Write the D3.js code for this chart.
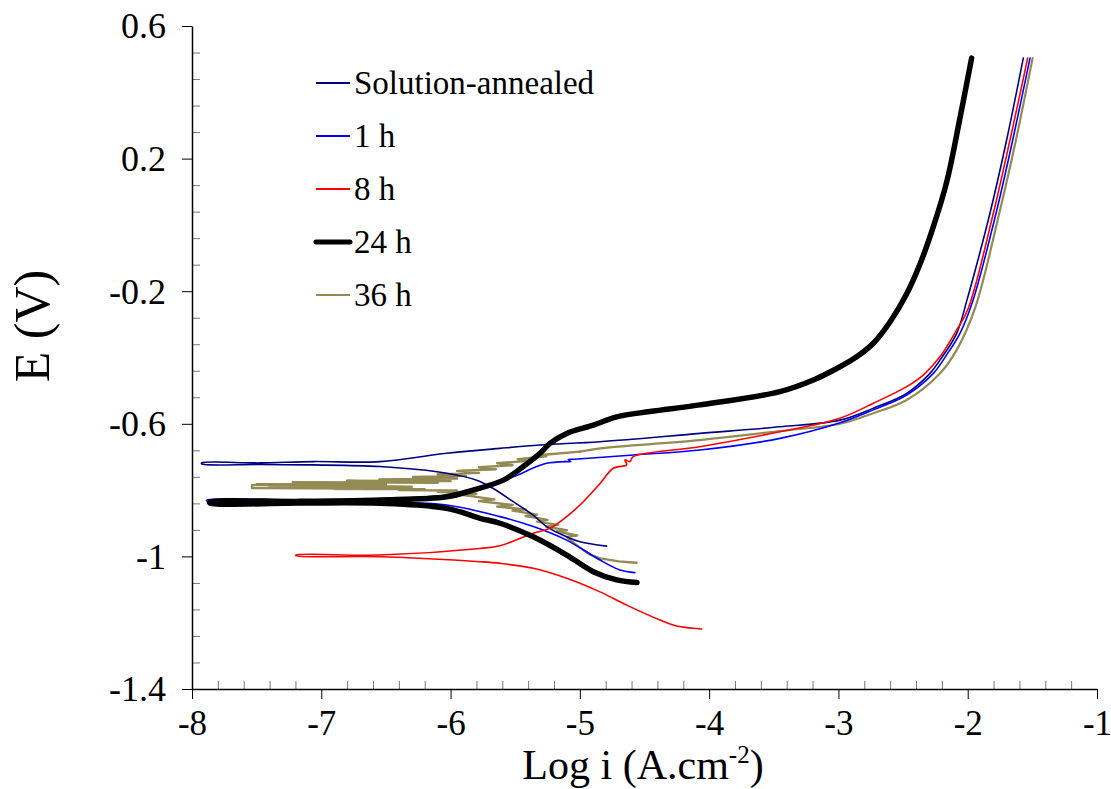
<!DOCTYPE html>
<html><head><meta charset="utf-8">
<script src="https://cdn.jsdelivr.net/npm/d3@7"></script>
<style>body{margin:0;background:#fff} text{font-family:"Liberation Serif","Times New Roman",serif;fill:#000}</style>
</head><body><svg id="c" width="1111" height="789"></svg>
<script>
const xTicks=[-8,-7,-6,-5,-4,-3,-2,-1];
const yTicks=[0.6,0.2,-0.2,-0.6,-1,-1.4];
const seriesNames=["Solution-annealed","1 h","8 h","24 h","36 h"];
const seriesColors=["#000080","#0000FF","#FF0000","#000000","#948A54"];

// [log i, E] in scan order: cathodic end -> Ecorr -> anodic end
const solutionAnnealed=[[-4.793,-0.969],[-4.999,-0.956],[-5.102,-0.941],[-5.257,-0.910],[-5.363,-0.875],[-5.515,-0.835],[-5.670,-0.795],[-5.798,-0.770],[-6.030,-0.749],[-6.546,-0.729],[-7.064,-0.724],[-7.474,-0.723],[-7.925,-0.721],
 [-7.925,-0.718],[-7.474,-0.718],[-7.064,-0.714],[-6.546,-0.714],[-6.030,-0.689],[-5.618,-0.674],[-5.308,-0.664],[-4.844,-0.654],[-4.071,-0.629],[-3.452,-0.609],[-2.988,-0.589],[-2.730,-0.553],[-2.472,-0.508],[-2.292,-0.448],[-2.215,-0.408],[-2.085,-0.327],[-2.006,-0.227],[-1.921,-0.106],[-1.828,0.035],[-1.699,0.256],[-1.570,0.503]];
const h1=[[-4.574,-1.049],[-4.690,-1.041],[-4.844,-1.011],[-5.102,-0.951],[-5.360,-0.910],[-5.618,-0.880],[-6.030,-0.845],[-6.546,-0.836],[-7.165,-0.834],[-7.886,-0.833],
 [-7.886,-0.830],[-7.165,-0.830],[-6.391,-0.824],[-6.030,-0.816],[-5.772,-0.797],[-5.670,-0.780],[-5.515,-0.760],[-5.334,-0.729],[-5.257,-0.719],[-5.102,-0.714],[-5.07,-0.714],[-5.09,-0.708],[-5.04,-0.707],[-4.587,-0.694],[-4.071,-0.679],[-3.452,-0.644],[-2.988,-0.597],[-2.730,-0.558],[-2.472,-0.513],[-2.266,-0.448],[-2.163,-0.392],[-2.060,-0.327],[-1.959,-0.227],[-1.781,0.035],[-1.652,0.256],[-1.518,0.503]];
const h8=[[-4.058,-1.219],[-4.251,-1.210],[-4.380,-1.192],[-4.638,-1.147],[-4.844,-1.107],[-5.102,-1.066],[-5.360,-1.036],[-5.618,-1.021],[-5.772,-1.016],[-6.546,-1.001],[-7.196,-0.998],
 [-7.196,-0.996],[-6.546,-0.996],[-5.772,-0.976],[-5.618,-0.968],[-5.360,-0.930],[-5.231,-0.915],[-5.102,-0.880],[-4.973,-0.835],[-4.844,-0.780],[-4.741,-0.734],[-4.638,-0.724],[-4.651,-0.709],[-4.612,-0.714],[-4.587,-0.699],[-4.071,-0.669],[-3.452,-0.624],[-2.988,-0.583],[-2.730,-0.538],[-2.472,-0.488],[-2.344,-0.453],[-2.215,-0.398],[-2.085,-0.317],[-1.996,-0.252],[-1.802,0.035],[-1.673,0.256],[-1.536,0.503]];
const h24=[[-4.558,-1.079],[-4.715,-1.071],[-4.896,-1.046],[-5.102,-0.996],[-5.360,-0.941],[-5.618,-0.900],[-5.772,-0.885],[-6.030,-0.855],[-6.546,-0.840],[-7.165,-0.839],[-7.861,-0.839],
 [-7.861,-0.836],[-7.165,-0.834],[-6.546,-0.830],[-6.030,-0.820],[-5.827,-0.800],[-5.592,-0.770],[-5.438,-0.729],[-5.308,-0.689],[-5.231,-0.659],[-5.102,-0.629],[-4.896,-0.604],[-4.715,-0.579],[-4.458,-0.563],[-4.071,-0.543],[-3.452,-0.503],[-3.194,-0.468],[-2.988,-0.428],[-2.859,-0.398],[-2.730,-0.357],[-2.601,-0.293],[-2.472,-0.208],[-2.369,-0.118],[-2.269,-0.009],[-2.163,0.129],[-2.060,0.322],[-1.970,0.503]];
const h36=[[-4.561,-1.019],[-4.70,-1.015],[-4.844,-1.006],[-4.92,-0.995],[-4.973,-0.981],[-5.04,-0.962],[-5.102,-0.941],
 [-5.02,-0.937],[-5.18,-0.925],[-5.10,-0.921],[-5.26,-0.910],[-5.17,-0.905],[-5.33,-0.895],[-5.25,-0.890],[-5.42,-0.878],[-5.33,-0.874],[-5.52,-0.862],[-5.42,-0.858],[-5.64,-0.850],[-5.52,-0.845],[-5.78,-0.833],[-5.66,-0.828],[-5.90,-0.815],[-5.80,-0.811],[-6.10,-0.805],[-5.95,-0.801],[-6.40,-0.800],[-6.20,-0.797],[-6.90,-0.797],[-6.60,-0.795],[-7.536,-0.794],
 [-7.536,-0.785],[-6.70,-0.786],[-7.40,-0.789],[-6.30,-0.790],[-7.50,-0.782],[-6.50,-0.783],[-7.22,-0.776],[-6.10,-0.778],[-6.80,-0.772],[-6.00,-0.773],[-6.55,-0.768],[-5.95,-0.765],[-6.29,-0.760],[-5.88,-0.757],[-6.10,-0.752],[-5.78,-0.748],[-5.95,-0.742],[-5.65,-0.737],[-5.78,-0.731],[-5.52,-0.725],[-5.64,-0.719],[-5.40,-0.712],[-5.48,-0.707],[-5.26,-0.698],[-5.30,-0.694],[-5.00,-0.684],[-4.844,-0.674],[-4.071,-0.649],[-3.452,-0.622],[-2.988,-0.600],[-2.730,-0.568],[-2.472,-0.528],[-2.215,-0.448],[-2.085,-0.377],[-1.944,-0.252],[-1.756,0.035],[-1.627,0.256],[-1.498,0.503]];
// index in h36 where the noisy part ends and the smooth anodic part starts
const h36SmoothFrom=56;

const seriesData=[solutionAnnealed,h1,h8,h24,h36];
const seriesWidths=[1.6,1.6,1.6,5.5,2.2];

const svg=d3.select("#c");
const x=d3.scaleLinear().domain([-8,-1]).range([192,1097]);
const y=d3.scaleLinear().domain([-1.4,0.6]).range([689,26]);

// minor ticks (inside)
const xMinor=d3.range(0,36).map(i=>-8+i*0.2).filter(v=>Math.abs(v-Math.round(v))>1e-6);
const yMinor=d3.range(0,26).map(i=>-1.4+i*0.08).filter(v=>!yTicks.some(t=>Math.abs(t-v)<1e-6));
svg.append("g").attr("transform","translate(0,689)")
  .call(d3.axisTop(x).tickValues(xMinor).tickSize(8).tickFormat(""))
  .call(g=>g.select(".domain").remove())
  .selectAll("line").attr("stroke","#777");
svg.append("g").attr("transform","translate(192,0)")
  .call(d3.axisRight(y).tickValues(yMinor).tickSize(8).tickFormat(""))
  .call(g=>g.select(".domain").remove())
  .selectAll("line").attr("stroke","#777");

// major axes
const gx=svg.append("g").attr("transform","translate(0,689)")
  .call(d3.axisBottom(x).tickValues(xTicks).tickSizeInner(10).tickSizeOuter(0).tickFormat(d=>String(d)));
gx.select(".domain").attr("stroke","#000").attr("stroke-width",1.5);
gx.selectAll("text").attr("y",46).attr("dy",0).style("font-size","35px").attr("font-family",null);
const gy=svg.append("g").attr("transform","translate(192,0)")
  .call(d3.axisLeft(y).tickValues(yTicks).tickSizeInner(10).tickSizeOuter(0).tickFormat(d=>String(d)));
gy.select(".domain").attr("stroke","#000").attr("stroke-width",1.5);
gy.selectAll("text").attr("x",-26).attr("dy","0.33em").style("font-size","36px").attr("font-family",null);

// curves
const smooth=d3.line().x(d=>x(d[0])).y(d=>y(d[1])).curve(d3.curveCatmullRom.alpha(0.5));
const straight=d3.line().x(d=>x(d[0])).y(d=>y(d[1]));
function drawPath(data,gen,i,w){
  svg.append("path").datum(data).attr("d",gen)
    .attr("fill","none").attr("stroke",seriesColors[i]).attr("stroke-width",w)
    .attr("stroke-linejoin","round").attr("stroke-linecap","round");
}
// 36 h drawn first (underneath), noisy part straight, anodic tail smooth
drawPath(h36.slice(0,h36SmoothFrom+1),straight,4,2.4);
drawPath(h36.slice(h36SmoothFrom),smooth,4,seriesWidths[4]);
[0,1,2,3].forEach(i=>drawPath(seriesData[i],smooth,i,seriesWidths[i]));

// legend
const leg=svg.append("g");
seriesNames.forEach((n,i)=>{
  const cy=83+i*53;
  leg.append("line").attr("x1",316).attr("x2",350).attr("y1",cy).attr("y2",cy)
    .attr("stroke",seriesColors[i]).attr("stroke-width",i===3?5:2).attr("stroke-linecap",i===3?"round":"butt");
  leg.append("text").attr("x",354).attr("y",cy+11).style("font-size","33px").text(n);
});

// axis titles
svg.append("text").attr("transform","translate(49,326) rotate(-90)").attr("text-anchor","middle")
  .style("font-size","50px").text("E (V)");
const xt=svg.append("text").attr("x",643).attr("y",779).attr("text-anchor","middle").style("font-size","42px");
xt.append("tspan").text("Log i (A.cm");
xt.append("tspan").attr("dy",-16).style("font-size","25px").text("-2");
xt.append("tspan").attr("dy",16).text(")");
</script></body></html>
